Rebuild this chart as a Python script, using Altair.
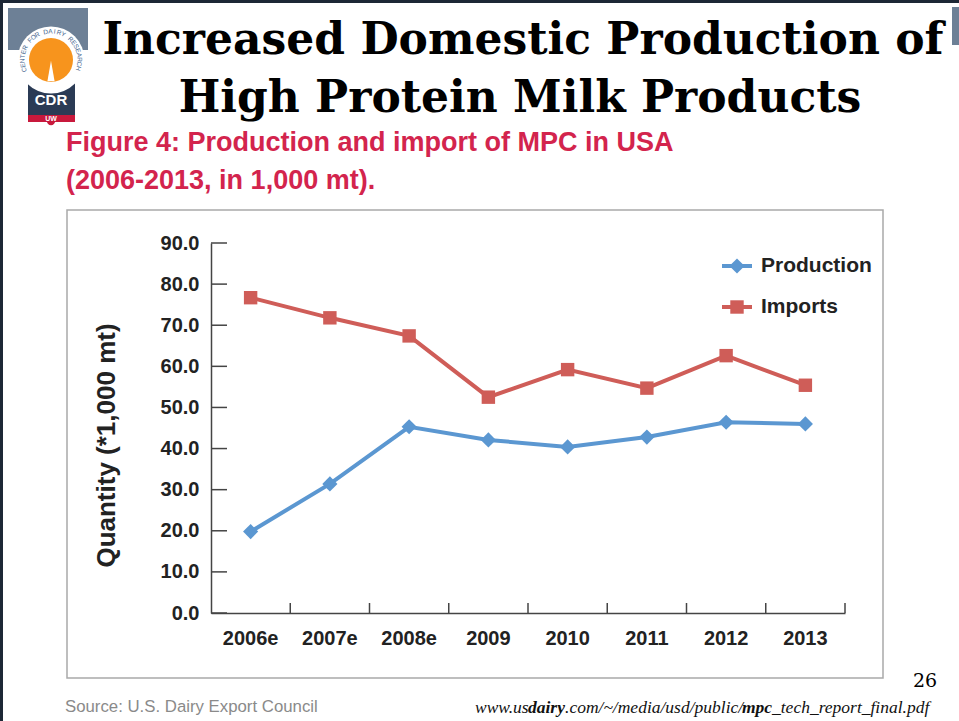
import math
import altair as alt
import pandas as pd

# ---------------- data ----------------
years = ["2006e", "2007e", "2008e", "2009", "2010", "2011", "2012", "2013"]
production = [19.8, 31.4, 45.3, 42.1, 40.4, 42.8, 46.4, 46.0]
imports = [76.7, 71.8, 67.4, 52.5, 59.2, 54.7, 62.6, 55.4]
series = ["Production", "Imports"]
y_ticks = [0, 10, 20, 30, 40, 50, 60, 70, 80, 90]

colors = ["#5b97d1", "#cf5d58"]
shapes = ["diamond", "square"]
sizes = [230, 180]

df = pd.DataFrame({
    "year": years * 2,
    "series": ["Production"] * len(years) + ["Imports"] * len(years),
    "value": production + imports,
})
year_df = pd.DataFrame({"year": years})
tick_df = pd.DataFrame({"t": y_ticks})
one = pd.DataFrame({"k": [0]})

# ---------------- layout ----------------
L, T, R, B = 211, 243, 845, 613
W, H = R - L, B - T


def X(px):
    return px - L


def Y(py):
    return py - T


def rect(x1, y1, x2, y2, **kw):
    return alt.Chart(one).mark_rect(**kw).encode(
        x=alt.value(X(x1)), x2=alt.value(X(x2)),
        y=alt.value(Y(y1)), y2=alt.value(Y(y2)))


def txt(s, x, y, **kw):
    return alt.Chart(one).mark_text(**kw).encode(
        x=alt.value(X(x)), y=alt.value(Y(y)), text=alt.value(s))


def dot(x, y, **kw):
    return alt.Chart(one).mark_point(**kw).encode(
        x=alt.value(X(x)), y=alt.value(Y(y)))


SANS = "Liberation Sans"
SERIF = "DejaVu Serif"
TXT = "#222222"
AX = "#444444"

xsc = alt.Scale(type="band", domain=years, paddingInner=0, paddingOuter=0)
xax = alt.Axis(title=None, ticks=False, tickSize=0, grid=False, labelAngle=0,
               labelFont=SANS, labelFontSize=20, labelFontWeight="bold",
               labelColor=TXT, labelPadding=15, domainColor=AX, domainWidth=1.5)
ysc = alt.Scale(domain=[0, 90], nice=False, zero=True)
yax = alt.Axis(title="Quantity (*1,000 mt)", values=y_ticks, format=".1f",
               ticks=False, tickSize=0, grid=False, labelPadding=12,
               labelFont=SANS, labelFontSize=20, labelFontWeight="bold",
               labelColor=TXT, domainColor=AX, domainWidth=1.5,
               titleFont=SANS, titleFontSize=26, titleFontWeight="bold",
               titleColor=TXT, titleAngle=270, titleX=-97, titleY=202,
               titleAlign="center", titleBaseline="alphabetic")

color_enc = alt.Color("series:N", scale=alt.Scale(domain=series, range=colors), legend=None)

layers = []

# slide decorations
layers.append(rect(0, 0, 959, 3, color="#1d2735"))
layers.append(rect(0, 0, 3, 721, color="#1d2735"))
layers.append(rect(8, 8, 88, 50, color="#6d8096"))
layers.append(rect(952, 7, 959, 45, color="#6d8096"))

# logo
layers.append(rect(28, 76, 75, 115, color="#2b3b55"))
layers.append(rect(28, 115, 75, 122, color="#c8193c"))
layers.append(dot(51, 121, shape="circle", filled=True, opacity=1, color="#c8193c", size=70))
layers.append(dot(51, 60, shape="circle", filled=True, opacity=1, color="white", size=4500))
layers.append(dot(51, 60, shape="circle", filled=True, opacity=1, color="#f7941d", size=1936))
layers.append(dot(51, 71, shape="M0,-1L0.35,1L-0.35,1Z", filled=True, opacity=1,
                  color="white", size=420))
layers.append(txt("CDR", 51, 100, font=SANS, fontSize=15, fontWeight="bold",
                  color="white", align="center", baseline="middle"))
layers.append(txt("UW", 51, 119, font=SANS, fontSize=7, fontWeight="bold",
                  color="white", align="center", baseline="middle"))
ring = "CENTER FOR DAIRY RESEARCH"
for i, ch in enumerate(ring):
    if ch == " ":
        continue
    th = 200 - i * (217 / (len(ring) - 1))
    rad = math.radians(th)
    cx = 51 + 28.5 * math.cos(rad)
    cy = 60 - 28.5 * math.sin(rad)
    ang = (90 - th) % 360
    layers.append(txt(ch, cx, cy, font=SANS, fontSize=6.5, color="#45668f",
                      align="center", baseline="middle", angle=ang))

# titles
layers.append(txt("Increased Domestic Production of", 523, 54, font=SERIF, fontSize=44,
                  fontWeight="bold", color="black", align="center", baseline="alphabetic"))
layers.append(txt("High Protein Milk Products", 520, 112, font=SERIF, fontSize=44,
                  fontWeight="bold", color="black", align="center", baseline="alphabetic"))
layers.append(txt("Figure 4: Production and import of MPC in USA", 66, 151, font=SANS,
                  fontSize=27, fontWeight="bold", color="#d3244d", align="left",
                  baseline="alphabetic"))
layers.append(txt("(2006-2013, in 1,000 mt).", 66, 189, font=SANS,
                  fontSize=27, fontWeight="bold", color="#d3244d", align="left",
                  baseline="alphabetic"))

# chart frame
layers.append(alt.Chart(one).mark_rect(filled=False, stroke="#a9a9a9", strokeWidth=1.5).encode(
    x=alt.value(X(67)), x2=alt.value(X(883)), y=alt.value(Y(210)), y2=alt.value(Y(678))))

# data lines and points
layers.append(alt.Chart(df).mark_line(strokeWidth=4).encode(
    x=alt.X("year:N", scale=xsc, axis=xax, bandPosition=0.5),
    y=alt.Y("value:Q", scale=ysc, axis=yax),
    color=color_enc))
layers.append(alt.Chart(df).mark_point(filled=True, opacity=1).encode(
    x=alt.X("year:N", scale=xsc, axis=xax, bandPosition=0.5),
    y=alt.Y("value:Q", scale=ysc, axis=yax),
    color=color_enc,
    shape=alt.Shape("series:N", scale=alt.Scale(domain=series, range=shapes), legend=None),
    size=alt.Size("series:N", scale=alt.Scale(domain=series, range=sizes), legend=None)))

# inward ticks
layers.append(alt.Chart(tick_df).mark_rule(color=AX, strokeWidth=1.5).encode(
    x=alt.value(0), x2=alt.value(16),
    y=alt.Y("t:Q", scale=ysc, axis=yax)))
layers.append(alt.Chart(year_df).mark_rule(color=AX, strokeWidth=1.5).encode(
    x=alt.X("year:N", scale=xsc, axis=xax, bandPosition=1),
    y=alt.value(H), y2=alt.value(H - 10)))

# legend
leg_y = [266, 307]
for name, col, shp, sz, ly in zip(series, colors, shapes, sizes, leg_y):
    layers.append(alt.Chart(one).mark_rule(color=col, strokeWidth=4).encode(
        x=alt.value(X(722)), x2=alt.value(X(752)), y=alt.value(Y(ly))))
    layers.append(dot(737, ly, shape=shp, filled=True, opacity=1, color=col, size=sz))
    layers.append(txt(name, 761, ly, font=SANS, fontSize=21, fontWeight="bold",
                      color=TXT, align="left", baseline="middle"))

# footer
layers.append(txt("26", 913, 687, font=SERIF, fontSize=19, color="black",
                  align="left", baseline="alphabetic"))
layers.append(txt("Source: U.S. Dairy Export Council", 65, 712, font=SANS, fontSize=16.8,
                  color="#8a8a8a", align="left", baseline="alphabetic"))
url_parts = [("www.us", 475, "normal"), ("dairy", 528, "bold"),
             (".com/~/media/usd/public/", 565, "normal"), ("mpc", 742, "bold"),
             ("_tech_report_final.pdf", 772, "normal")]
for s, ux, wt in url_parts:
    layers.append(txt(s, ux, 713, font="Liberation Serif", fontSize=17.5, fontStyle="italic",
                      fontWeight=wt, color="#111111", align="left", baseline="alphabetic"))

chart = alt.layer(*layers).properties(
    width=W, height=H,
    padding={"left": L, "top": T, "right": 959 - R, "bottom": 721 - B},
    autosize=alt.AutoSizeParams(type="none"),
    background="white",
).configure_view(stroke=None)

chart.save("out.html", embed_options={"renderer": "svg", "actions": False})
